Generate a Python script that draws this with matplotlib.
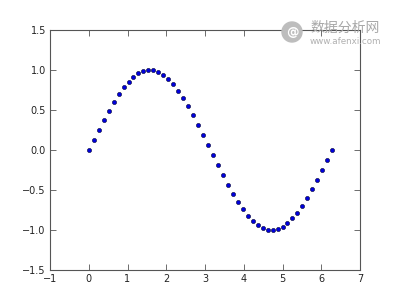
import matplotlib
matplotlib.use("Agg")
import matplotlib.pyplot as plt
from matplotlib.patches import Ellipse

xs = [0.000, 0.128, 0.256, 0.385, 0.513, 0.641, 0.769, 0.898, 1.026, 1.154,
      1.282, 1.411, 1.539, 1.667, 1.795, 1.923, 2.052, 2.180, 2.308, 2.436,
      2.565, 2.693, 2.821, 2.949, 3.077, 3.206, 3.334, 3.462, 3.590, 3.719,
      3.847, 3.975, 4.103, 4.231, 4.360, 4.488, 4.616, 4.744, 4.873, 5.001,
      5.129, 5.257, 5.386, 5.514, 5.642, 5.770, 5.898, 6.027, 6.155, 6.283]
ys = [0.000, 0.128, 0.253, 0.375, 0.491, 0.598, 0.696, 0.782, 0.855, 0.914,
      0.959, 0.987, 1.000, 0.995, 0.975, 0.938, 0.886, 0.820, 0.741, 0.649,
      0.546, 0.434, 0.315, 0.191, 0.064, -0.064, -0.191, -0.315, -0.434, -0.546,
      -0.649, -0.741, -0.820, -0.886, -0.938, -0.975, -0.995, -1.000, -0.987, -0.959,
      -0.914, -0.855, -0.782, -0.696, -0.598, -0.491, -0.375, -0.253, -0.128, 0.000]

xticks = [-1, 0, 1, 2, 3, 4, 5, 6, 7]
yticks = [-1.5, -1.0, -0.5, 0.0, 0.5, 1.0, 1.5]

fig = plt.figure(figsize=(4, 3), dpi=100, facecolor="white")
ax = fig.add_axes([0.125, 0.1, 0.775, 0.8])
ax.plot(xs, ys, "o", ms=3.0, mfc="#0000dd", mec="#000033", mew=0.4)

ax.set_xlim(-1, 7)
ax.set_ylim(-1.5, 1.5)
ax.set_xticks(xticks)
ax.set_yticks(yticks)
ax.set_yticklabels(["\u22121.5", "\u22121.0", "\u22120.5", "0.0", "0.5", "1.0", "1.5"])
ax.set_xticklabels(["\u22121", "0", "1", "2", "3", "4", "5", "6", "7"])
ax.tick_params(direction="in", top=True, right=True, length=4, width=0.6,
               labelsize=7, pad=3, color="#555555", labelcolor="#222222")
for s in ax.spines.values():
    s.set_linewidth(0.8)
    s.set_color("#555555")

# watermark
fig.add_artist(Ellipse((292 / 400, 1 - 32 / 300), 20 / 400, 20 / 300,
                       transform=fig.transFigure, color="#bdbdbd", zorder=5))
fig.text(292 / 400, 1 - 32 / 300, "@", color="white", fontsize=9, weight="bold",
         ha="center", va="center", zorder=6)
fig.text(310 / 400, 1 - 28 / 300, "数据分析网", color="#a8a8a8", fontsize=10,
         family=["Noto Sans CJK SC", "DejaVu Sans"], ha="left", va="center", zorder=6)
fig.text(310 / 400, 1 - 41 / 300, "www.afenxi.com", color="#b0b0b0", fontsize=6.3,
         ha="left", va="center", zorder=6)

fig.savefig("out.png", dpi=100, facecolor="white")
